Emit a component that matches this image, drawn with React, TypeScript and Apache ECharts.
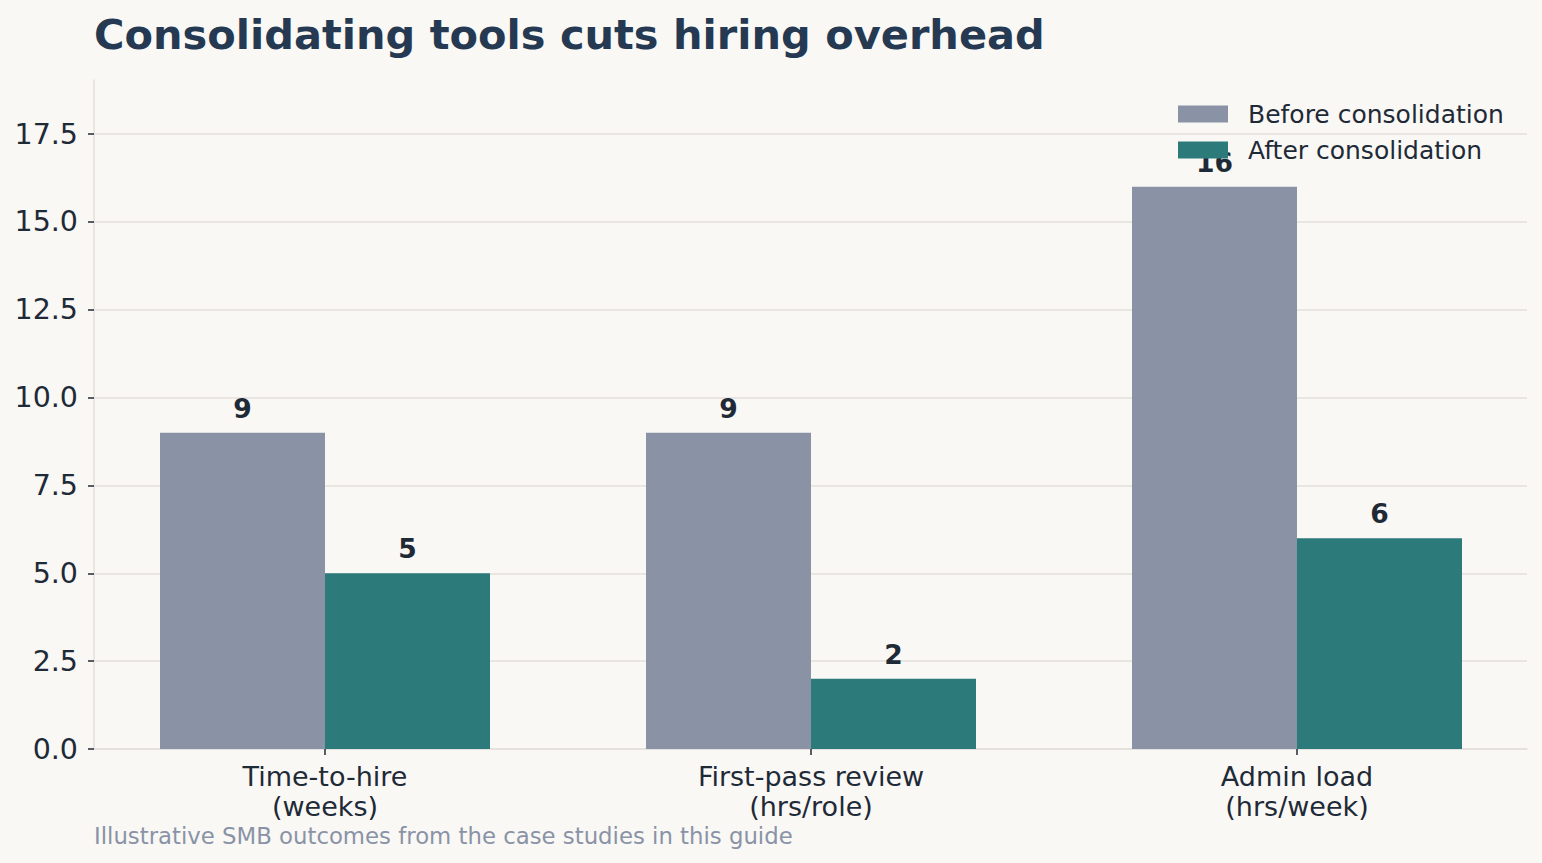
import React, { useEffect, useRef } from "react";
import * as echarts from "echarts";

const categories = ["Time-to-hire\n(weeks)", "First-pass review\n(hrs/role)", "Admin load\n(hrs/week)"];
const beforeValues = [9, 9, 16];
const afterValues = [5, 2, 6];
const seriesNames = ["Before consolidation", "After consolidation"];
const titleText = "Consolidating tools cuts hiring overhead";
const footnoteText = "Illustrative SMB outcomes from the case studies in this guide";

const FONT = "'DejaVu Sans', Verdana, sans-serif";
const INK = "#1f2a37";
const GRID = "#e3e0db";
const BG = "#f9f8f5";
const BEFORE = "#8a93a6";
const AFTER = "#2d7a7b";

export default function App() {
  const ref = useRef<HTMLDivElement>(null);

  useEffect(() => {
    if (!ref.current) return;
    const chart = echarts.init(ref.current, undefined, { renderer: "svg" });
    const yTop = 19.04;
    const valueLabel = {
      show: true,
      position: "top",
      distance: 11,
      fontFamily: FONT,
      fontSize: 26.6,
      fontWeight: "bold",
      color: INK,
    };
    chart.setOption({
      animation: false,
      backgroundColor: BG,
      textStyle: { fontFamily: FONT },
      title: {
        text: titleText,
        left: 94,
        top: 13,
        padding: 0,
        textStyle: { fontFamily: FONT, fontSize: 41.5, fontWeight: "bold", color: "#253a52" },
      },
      legend: {
        data: seriesNames,
        orient: "vertical",
        left: 1178,
        top: 101,
        padding: 0,
        itemWidth: 50,
        itemHeight: 17,
        itemGap: 10,
        icon: "rect",
        textStyle: { fontFamily: FONT, fontSize: 25, color: INK, lineHeight: 26, padding: [0, 0, 0, 15] },
      },
      grid: [
        // frame: gridlines, y labels, bottom spine
        { left: 94, top: 134, width: 1433, height: 615 },
        // bars, category labels, left spine
        { left: 82, top: 80, width: 1458, height: 669 },
      ],
      xAxis: [
        {
          gridIndex: 0,
          type: "category",
          data: categories,
          axisLine: { show: true, lineStyle: { color: GRID, width: 1.5 } },
          axisTick: { show: false },
          axisLabel: { show: false },
          splitLine: { show: false },
        },
        {
          gridIndex: 1,
          type: "category",
          data: categories,
          axisLine: { show: false },
          axisTick: { show: true, alignWithLabel: true, length: 6, lineStyle: { color: INK, width: 1.5 } },
          axisLabel: { fontFamily: FONT, fontSize: 27, color: INK, lineHeight: 30, margin: 12 },
          splitLine: { show: false },
        },
      ],
      yAxis: [
        {
          gridIndex: 0,
          type: "value",
          min: 0,
          max: 17.5,
          interval: 2.5,
          axisLine: { show: false },
          axisTick: { show: true, length: 6, lineStyle: { color: INK, width: 1.5 } },
          axisLabel: {
            fontFamily: FONT,
            fontSize: 28.5,
            color: INK,
            margin: 16,
            formatter: (v: number) => v.toFixed(1),
          },
          splitLine: { show: true, lineStyle: { color: GRID, width: 1.5 } },
        },
        {
          gridIndex: 1,
          type: "value",
          min: 0,
          max: yTop,
          offset: -12,
          axisLine: { show: true, lineStyle: { color: GRID, width: 1.5 } },
          axisTick: { show: false },
          axisLabel: { show: false },
          splitLine: { show: false },
        },
      ],
      series: [
        {
          name: seriesNames[0],
          type: "bar",
          xAxisIndex: 1,
          yAxisIndex: 1,
          data: beforeValues,
          barWidth: 165,
          barGap: "0%",
          itemStyle: { color: BEFORE },
          label: valueLabel,
        },
        {
          name: seriesNames[1],
          type: "bar",
          xAxisIndex: 1,
          yAxisIndex: 1,
          data: afterValues,
          barWidth: 165,
          barGap: "0%",
          itemStyle: { color: AFTER },
          label: valueLabel,
        },
      ],
      graphic: [
        {
          type: "text",
          left: 94,
          top: 824,
          style: { text: footnoteText, fontFamily: FONT, fontSize: 22.8, fill: BEFORE },
        },
      ],
    });
    return () => chart.dispose();
  }, []);

  return (
    <div style={{ position: "absolute", left: 0, top: 0, width: 1542, height: 863, background: BG }}>
      <div ref={ref} style={{ width: 1542, height: 863 }} />
    </div>
  );
}
